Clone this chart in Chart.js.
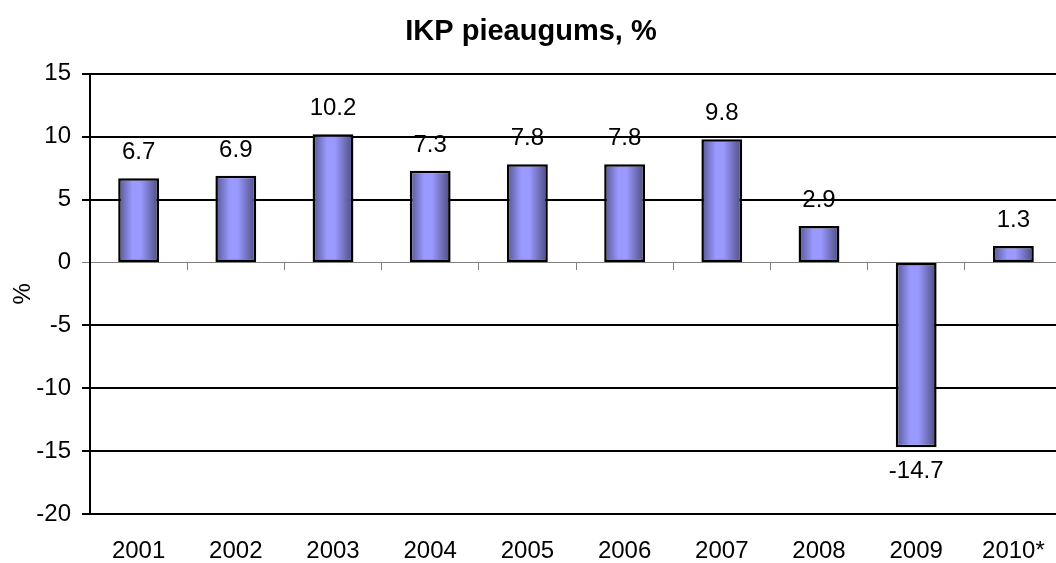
<!DOCTYPE html>
<html>
<head>
<meta charset="utf-8">
<script src="https://cdn.jsdelivr.net/npm/chart.js@4/dist/chart.umd.min.js"></script>
<style>
  html, body { margin: 0; padding: 0; background: #fff; overflow: hidden; }
  #wrap { width: 1056px; height: 563px; overflow: hidden; }
</style>
</head>
<body>
<div id="wrap"><canvas id="chart" width="1062" height="563"></canvas></div>
<script>
const years = ["2001", "2002", "2003", "2004", "2005", "2006", "2007", "2008", "2009", "2010*"];
const growth = [6.7, 6.9, 10.2, 7.3, 7.8, 7.8, 9.8, 2.9, -14.7, 1.3];
const chartTitle = "IKP pieaugums, %";
const yTitle = "%";

const font = "'Liberation Sans', Arial, sans-serif";

// horizontal shading on every bar, dark at the edges
function barFill(c) {
  const chart = c.chart;
  const x = chart.scales.x;
  if (!x || !chart.chartArea) return "#9999ff";
  const cx = x.getPixelForValue(c.dataIndex);
  const half = (x.width / years.length) * 0.42 / 2;
  const g = chart.ctx.createLinearGradient(cx - half, 0, cx + half, 0);
  g.addColorStop(0, "#55558f");
  g.addColorStop(0.35, "#9999ff");
  g.addColorStop(0.55, "#9999ff");
  g.addColorStop(1, "#4a4a7c");
  return g;
}

const valueLabels = {
  id: "valueLabels",
  afterDatasetsDraw(chart) {
    const ctx = chart.ctx;
    const meta = chart.getDatasetMeta(0);
    ctx.save();
    ctx.font = "24px " + font;
    ctx.fillStyle = "#000";
    ctx.textAlign = "center";
    ctx.textBaseline = "alphabetic";
    meta.data.forEach((bar, i) => {
      const v = growth[i];
      const y = v >= 0 ? bar.y - 19 : bar.y + 31;
      ctx.fillText(v.toFixed(1), bar.x, y);
    });
    ctx.restore();
  }
};

new Chart(document.getElementById("chart"), {
  type: "bar",
  data: {
    labels: years,
    datasets: [{
      data: growth,
      backgroundColor: barFill,
      borderColor: "#000",
      borderWidth: 2.5,
      borderSkipped: false,
      categoryPercentage: 1,
      barPercentage: 0.42
    }]
  },
  options: {
    responsive: false,
    animation: false,
    layout: { padding: 0 },
    plugins: {
      legend: { display: false },
      tooltip: { enabled: false },
      title: {
        display: true,
        text: chartTitle,
        color: "#000",
        font: { family: font, size: 29, weight: "bold" },
        padding: { top: 15, bottom: 24 }
      }
    },
    scales: {
      x: {
        grid: { display: false },
        border: { display: false },
        ticks: { color: "#000", font: { family: font, size: 24 }, padding: 15, maxRotation: 0 },
        afterFit: s => { s.height = 49; }
      },
      x0: {
        type: "category",
        labels: years,
        position: { y: 0 },
        offset: true,
        grid: { offset: true, drawOnChartArea: false, color: "#808080", tickLength: 7, lineWidth: 1 },
        border: { color: "#808080", width: 1 },
        ticks: { display: false }
      },
      y: {
        min: -20,
        max: 15,
        ticks: { stepSize: 5, color: "#000", font: { family: font, size: 24 }, padding: 11 },
        grid: {
          color: c => c.tick && c.tick.value === 0 ? "#808080" : "#000",
          lineWidth: c => c.tick && c.tick.value === 0 ? 1 : 2,
          tickLength: 8
        },
        border: { color: "#000", width: 2 },
        title: {
          display: true,
          text: yTitle,
          color: "#000",
          font: { family: font, size: 24 },
          padding: { top: 9, bottom: 0 }
        },
        afterFit: s => { s.width = 90; }
      }
    }
  },
  plugins: [valueLabels]
});
</script>
</body>
</html>
